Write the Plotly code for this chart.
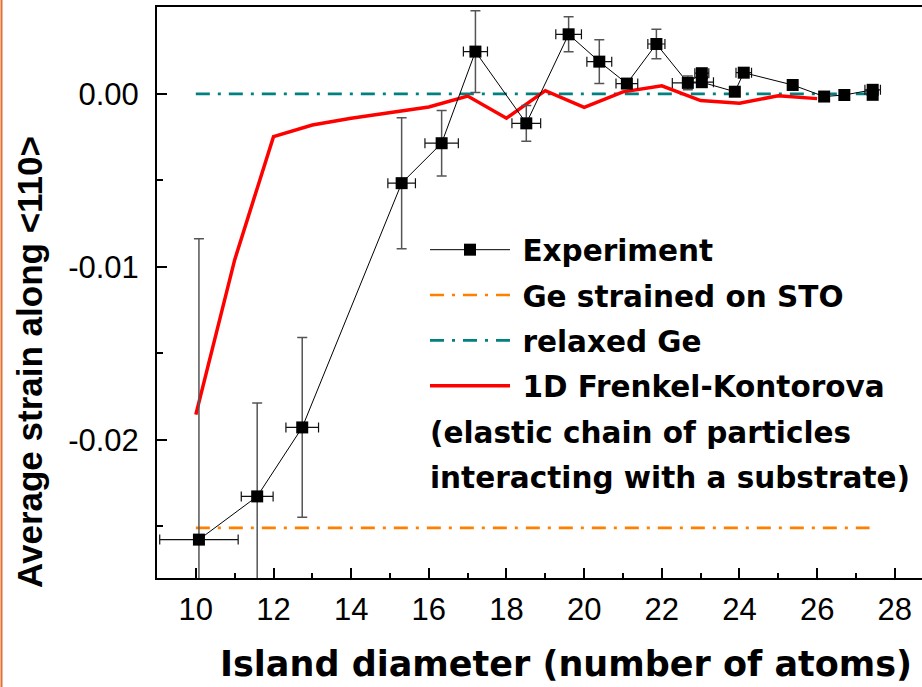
import plotly.graph_objects as go

# ---------------- data ----------------
exp_x = [10.08, 11.58, 12.74, 15.30, 16.33, 17.20, 18.51, 19.60, 20.39, 21.10, 21.86,
         22.67, 23.03, 23.03, 23.88, 24.11, 25.37, 26.18, 26.70, 27.43, 27.43]
exp_y = [-0.02578, -0.02328, -0.01929, -0.00516, -0.00285, 0.00245, -0.00170, 0.00345,
         0.00187, 0.00060, 0.00289, 0.00064, 0.00120, 0.00068, 0.00013, 0.00123, 0.00052,
         -0.00015, -0.00006, 0.00024, -0.00005]
exp_xerr = [1.01, 0.41, 0.42, 0.355, 0.43, 0.31, 0.37, 0.33, 0.32, 0.28, 0.22,
            0.40, 0.18, 0.30, 0.0, 0.20, 0.0, 0.0, 0.0, 0.20, 0.0]
exp_yerr = [0.0174, 0.0054, 0.0052, 0.00379, 0.0019, 0.00236, 0.00103, 0.00101,
            0.00127, 0.0002, 0.00085, 0.0004, 0.0002, 0.0002, 0.0, 0.0, 0.0, 0.0,
            0.0, 0.0, 0.0]

fk_x = [10, 11, 12, 13, 14, 15, 16, 17, 18, 19, 20, 21, 22, 23, 24, 25, 26]
fk_y = [-0.01855, -0.0096, -0.00247, -0.0018, -0.0014, -0.00105, -0.00075, -0.00012,
        -0.0014, 0.00019, -0.00077, 0.00012, 0.00047, -0.00038, -0.00054, -0.0001, -0.00027]

strained_x = [10.0, 27.35]
strained_y = [-0.0251, -0.0251]
relaxed_x = [10.0, 27.55]
relaxed_y = [0.0, 0.0]

x_tickvals = [10, 12, 14, 16, 18, 20, 22, 24, 26, 28]
x_minor = [9, 11, 13, 15, 17, 19, 21, 23, 25, 27]
y_tickvals = [0.0, -0.01, -0.02]
y_ticktext = ["0.00", "-0.01", "-0.02"]
y_minor = [-0.005, -0.015, -0.025]

names = ["Experiment", "Ge strained on STO", "relaxed Ge", "1D Frenkel-Kontorova"]
extra_lines = ["(elastic chain of particles", "interacting with a substrate)"]
x_title = "Island diameter (number of atoms)"
y_title = "Average strain along &lt;110&gt;"

# ---------------- figure ----------------
W, H = 922, 687
L, R, T, B = 157, 0, 7, 109
pw, ph = W - L - R, H - T - B

def px_x(p):
    return (p - L) / pw

def px_y(p):
    return (H - B - p) / ph

BOLD = "DejaVu Sans"
SP = "\u2005"
fig = go.Figure()

fig.add_trace(go.Scatter(
    x=strained_x, y=strained_y, mode="lines", name=SP + names[1], legendrank=2,
    legendgroup="g2",
    line=dict(color="#FF8000", width=2.7, dash="14px,8px,3px,8px")))
fig.add_trace(go.Scatter(
    x=relaxed_x, y=relaxed_y, mode="lines", name=SP + names[2], legendrank=3,
    legendgroup="g3",
    line=dict(color="#008080", width=2.7, dash="14px,8px,3px,8px")))
fig.add_trace(go.Scatter(
    x=fk_x, y=fk_y, mode="lines", name=SP + names[3], legendrank=4,
    legendgroup="g4",
    line=dict(color="#FF0000", width=3.5)))
fig.add_trace(go.Scatter(
    x=exp_x, y=exp_y, mode="lines+markers", name=SP + names[0], legendrank=1,
    legendgroup="g1",
    line=dict(color="black", width=1),
    marker=dict(symbol="square", size=12, color="black"),
    error_y=dict(type="data", array=exp_yerr, visible=True, color="#555555",
                 thickness=1.5, width=5),
    error_x=dict(type="data", array=exp_xerr, visible=True, color="#111111",
                 thickness=1.2, width=5)))

axis_font = dict(family="Liberation Sans, Arial", size=31, color="black")

fig.update_layout(
    width=W, height=H,
    margin=dict(l=L, r=R, t=T, b=B, pad=0),
    paper_bgcolor="white", plot_bgcolor="white",
    showlegend=True,
    legend=dict(x=px_x(425), y=px_y(224), xanchor="left", yanchor="top",
                bgcolor="rgba(0,0,0,0)", borderwidth=0,
                font=dict(family=BOLD, size=29.5, color="black", weight="bold"),
                tracegroupgap=4, itemwidth=80, traceorder="grouped"),
    xaxis=dict(range=[9, 28.7], showline=True, linecolor="black", linewidth=2,
               mirror=True, ticks="inside", ticklen=10, tickwidth=2, tickcolor="black",
               tickvals=x_tickvals, tickfont=axis_font, ticklabelstandoff=3,
               minor=dict(tickvals=x_minor, ticks="inside", ticklen=5, tickwidth=2,
                          tickcolor="black"),
               showgrid=False, zeroline=False),
    yaxis=dict(range=[-0.028, 0.00503], showline=True, linecolor="black", linewidth=2,
               mirror=False, ticks="inside", ticklen=10, tickwidth=2, tickcolor="black",
               tickvals=y_tickvals, ticktext=y_ticktext, tickfont=axis_font,
               ticklabelstandoff=10,
               minor=dict(tickvals=y_minor, ticks="inside", ticklen=6, tickwidth=2,
                          tickcolor="black"),
               showgrid=False, zeroline=False),
)

anns = [
    dict(text=x_title, x=px_x(566), y=px_y(664), xref="paper", yref="paper",
         xanchor="center", yanchor="middle", showarrow=False,
         font=dict(family=BOLD, size=35, color="black", weight="bold")),
    dict(text=y_title, x=px_x(29), y=px_y(362), xref="paper", yref="paper",
         xanchor="center", yanchor="middle", showarrow=False, textangle=-90,
         font=dict(family="Liberation Sans, Arial", size=35, color="black", weight="bold")),
    dict(text=extra_lines[0], x=px_x(428), y=px_y(433), xref="paper", yref="paper",
         xanchor="left", yanchor="middle", showarrow=False,
         font=dict(family=BOLD, size=29.5, color="black", weight="bold")),
    dict(text=extra_lines[1], x=px_x(428), y=px_y(478), xref="paper", yref="paper",
         xanchor="left", yanchor="middle", showarrow=False,
         font=dict(family=BOLD, size=29.5, color="black", weight="bold")),
]
fig.update_layout(annotations=anns)

fig.add_shape(type="line", xref="paper", yref="paper",
              x0=px_x(1.5), x1=px_x(1.5), y0=px_y(0), y1=px_y(H),
              line=dict(color="#E0702E", width=2))

fig.write_html("out.html")
